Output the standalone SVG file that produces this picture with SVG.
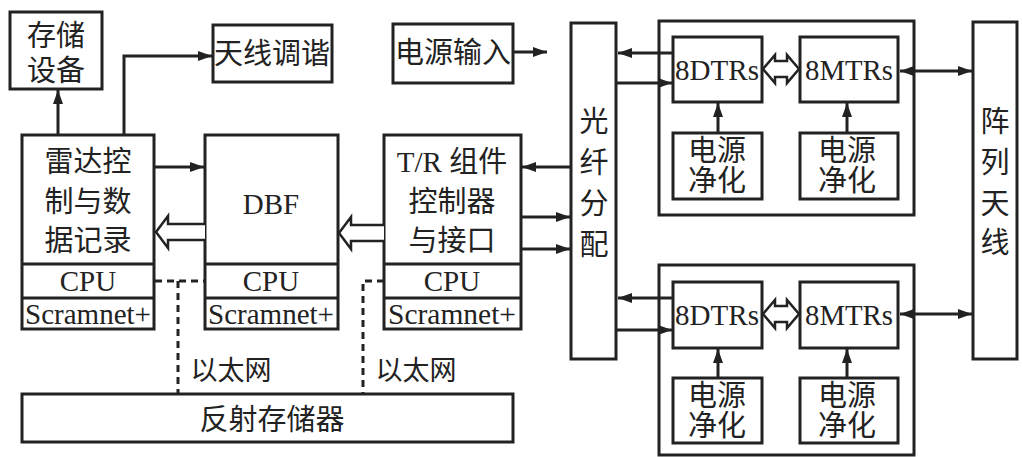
<svg xmlns="http://www.w3.org/2000/svg" width="1022" height="457" viewBox="0 0 1022 457">
<style>
.b{fill:#fff;stroke:#222;stroke-width:3}
.g{fill:none;stroke:#222;stroke-width:3}
.ln{fill:none;stroke:#222;stroke-width:3}
.ds{fill:none;stroke:#222;stroke-width:3;stroke-dasharray:7,5}
.h{fill:#fff;stroke:#222;stroke-width:2.5;stroke-linejoin:miter}
text{font-family:"Liberation Serif","Noto Sans CJK SC",serif;fill:#222;text-anchor:middle;dominant-baseline:central}
.zh{font-size:29px}
.en{font-size:29px}
</style>
<defs>
<marker id="a" viewBox="0 0 14 10" refX="14" refY="5" markerWidth="14" markerHeight="10" markerUnits="userSpaceOnUse" orient="auto-start-reverse">
<path d="M0,0 L14,5 L0,10 z" fill="#222"/>
</marker>
</defs>
<rect width="1022" height="457" fill="#fff"/>

<g id="storage"><rect class="b" x="10" y="12" width="92" height="77"/>
<text class="zh" x="56" y="36">存储</text><text class="zh" x="56" y="71">设备</text></g>

<g id="antenna-tune"><rect class="b" x="213" y="25" width="119" height="57"/>
<text class="zh" x="272" y="54">天线调谐</text></g>

<g id="power-in"><rect class="b" x="393" y="24" width="120" height="59"/>
<text class="zh" x="453" y="53">电源输入</text></g>

<g id="radar"><rect class="b" x="22" y="135" width="132" height="194"/>
<line class="ln" x1="22" y1="264" x2="154" y2="264"/><line class="ln" x1="22" y1="298" x2="154" y2="298"/>
<text class="zh" x="88" y="162">雷达控</text><text class="zh" x="88" y="202">制与数</text><text class="zh" x="88" y="241">据记录</text>
<text class="en" x="88" y="281">CPU</text><text class="en" x="88" y="314" textLength="126" lengthAdjust="spacingAndGlyphs">Scramnet+</text></g>

<g id="dbf"><rect class="b" x="205" y="135" width="133" height="194"/>
<line class="ln" x1="205" y1="264" x2="338" y2="264"/><line class="ln" x1="205" y1="298" x2="338" y2="298"/>
<text class="en" x="271" y="204">DBF</text>
<text class="en" x="271" y="281">CPU</text><text class="en" x="271" y="314" textLength="126" lengthAdjust="spacingAndGlyphs">Scramnet+</text></g>

<g id="tr"><rect class="b" x="384" y="135" width="137" height="194"/>
<line class="ln" x1="384" y1="264" x2="521" y2="264"/><line class="ln" x1="384" y1="298" x2="521" y2="298"/>
<text class="zh" x="452" y="162">T/R 组件</text><text class="zh" x="452" y="202">控制器</text><text class="zh" x="452" y="241">与接口</text>
<text class="en" x="452" y="281">CPU</text><text class="en" x="452" y="314" textLength="128" lengthAdjust="spacingAndGlyphs">Scramnet+</text></g>

<g id="fiber"><rect class="b" x="571" y="23" width="45" height="336"/>
<text class="zh" x="594" y="122">光</text><text class="zh" x="594" y="163">纤</text><text class="zh" x="594" y="204">分</text><text class="zh" x="594" y="245">配</text></g>

<g id="group1"><rect class="g" x="659" y="21" width="255" height="194"/>
<rect class="b" x="673" y="37" width="89" height="65"/><text class="en" x="717" y="70" textLength="84" lengthAdjust="spacingAndGlyphs">8DTRs</text>
<rect class="b" x="800" y="37" width="98" height="65"/><text class="en" x="849" y="70" textLength="88" lengthAdjust="spacingAndGlyphs">8MTRs</text>
<rect class="b" x="673" y="133" width="89" height="66"/><text class="zh" x="717" y="151">电源</text><text class="zh" x="717" y="181">净化</text>
<rect class="b" x="800" y="133" width="98" height="66"/><text class="zh" x="847" y="151">电源</text><text class="zh" x="847" y="181">净化</text></g>

<g id="group2"><rect class="g" x="659" y="265" width="255" height="190"/>
<rect class="b" x="673" y="282" width="89" height="66"/><text class="en" x="717" y="315" textLength="84" lengthAdjust="spacingAndGlyphs">8DTRs</text>
<rect class="b" x="800" y="282" width="98" height="66"/><text class="en" x="849" y="315" textLength="88" lengthAdjust="spacingAndGlyphs">8MTRs</text>
<rect class="b" x="673" y="378" width="89" height="65"/><text class="zh" x="717" y="396">电源</text><text class="zh" x="717" y="426">净化</text>
<rect class="b" x="800" y="378" width="98" height="65"/><text class="zh" x="847" y="396">电源</text><text class="zh" x="847" y="426">净化</text></g>

<g id="array"><rect class="b" x="973" y="22" width="44" height="337"/>
<text class="zh" x="995" y="122">阵</text><text class="zh" x="995" y="163">列</text><text class="zh" x="995" y="204">天</text><text class="zh" x="995" y="243">线</text></g>

<g id="reflect"><rect class="b" x="22" y="394" width="491" height="48"/>
<text class="zh" x="272" y="420">反射存储器</text></g>

<g id="labels"><text class="zh" x="231" y="371" style="font-size:27px">以太网</text><text class="zh" x="416" y="371" style="font-size:27px">以太网</text></g>

<g id="conn">
<path class="ln" d="M58,135 V90" marker-end="url(#a)"/>
<path class="ln" d="M124,135 V56 H212" marker-end="url(#a)"/>
<path class="ln" d="M154,167 H204" marker-end="url(#a)"/>
<path class="ln" d="M571,167 H522" marker-end="url(#a)"/>
<path class="ln" d="M521,217 H570" marker-end="url(#a)"/>
<path class="ln" d="M521,249 H570" marker-end="url(#a)"/>
<path class="ln" d="M513,52 H547" marker-end="url(#a)"/>
<path class="ln" d="M673,53 H618" marker-end="url(#a)"/>
<path class="ln" d="M616,83 H672" marker-end="url(#a)"/>
<path class="ln" d="M673,298 H618" marker-end="url(#a)"/>
<path class="ln" d="M616,330 H672" marker-end="url(#a)"/>
<path class="ln" d="M900,71 H972" marker-start="url(#a)" marker-end="url(#a)"/>
<path class="ln" d="M900,314 H972" marker-start="url(#a)" marker-end="url(#a)"/>
<path class="ln" d="M718,133 V103" marker-end="url(#a)"/>
<path class="ln" d="M847,133 V103" marker-end="url(#a)"/>
<path class="ln" d="M718,378 V349" marker-end="url(#a)"/>
<path class="ln" d="M847,378 V349" marker-end="url(#a)"/>
<path class="h" d="M205,224 H168 V216 L156,232 L168,248 V240 H205"/>
<path class="h" d="M384,225 H351 V217 L339,233 L351,249 V241 H384"/>
<path class="h" d="M775,61 H787 V55 L799,69 L787,83 V77 H775 V83 L763,69 L775,55 Z"/>
<path class="h" d="M775,306 H787 V300 L799,314 L787,328 V322 H775 V328 L763,314 L775,300 Z"/>
<path class="ds" d="M155,281 H205 M178,281 V393"/>
<path class="ds" d="M384,281 H363 V393"/>
</g>
</svg>
